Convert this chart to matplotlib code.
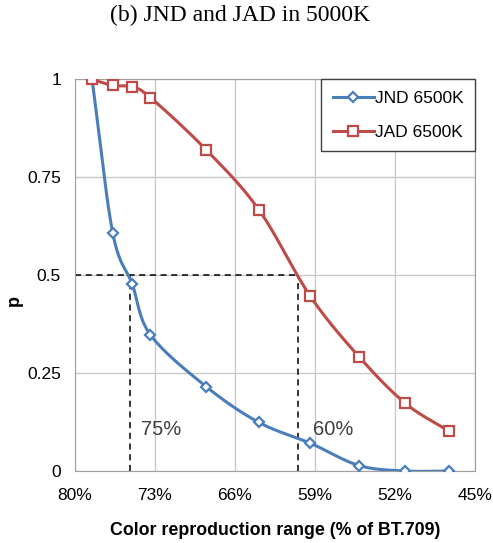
import numpy as np
import matplotlib
matplotlib.use('Agg')
from matplotlib.pyplot import figure

# colour gamut (% of BT.709) and probability values
gamut = [78.5, 76.7, 75.0, 73.4, 68.5, 63.9, 59.4, 55.15, 51.1, 47.3]
jnd = [1.0, 0.609, 0.478, 0.348, 0.215, 0.124, 0.071, 0.014, 0.0, 0.0]
jad = [1.0, 0.985, 0.981, 0.954, 0.820, 0.667, 0.446, 0.292, 0.173, 0.102]
x_ticks = [80, 73, 66, 59, 52, 45]
y_ticks = [0, 0.25, 0.5, 0.75, 1]
y_labels = ['0', '0.25', '0.5', '0.75', '1']
cut_jnd = 75.2
cut_jad = 60.5

def smooth(x, y, n=20):
    '''Catmull-Rom curve through the points, like an Excel smoothed line'''
    x = np.asarray(x, float)
    y = np.asarray(y, float)
    px = np.concatenate([[2*x[0]-x[1]], x, [2*x[-1]-x[-2]]])
    py = np.concatenate([[2*y[0]-y[1]], y, [2*y[-1]-y[-2]]])
    xs, ys = [], []
    t = np.linspace(0, 1, n, endpoint=False)
    for i in range(1, len(px)-2):
        for p, out in ((px, xs), (py, ys)):
            p0, p1, p2, p3 = p[i-1], p[i], p[i+1], p[i+2]
            out.extend(0.5*((2*p1) + (-p0+p2)*t + (2*p0-5*p1+4*p2-p3)*t**2
                            + (-p0+3*p1-3*p2+p3)*t**3))
    xs.append(x[-1])
    ys.append(y[-1])
    return np.array(xs), np.array(ys)

blue = '#4A7EBB'
red = '#BE4B48'
sans = 'Liberation Sans'

fig = figure(figsize=(4.93, 5.43), dpi=100)
ax = fig.add_axes([0.152, 0.1326, 0.8115, 0.721])

for vals, col, mk, ms, name in ((jnd, blue, 'D', 5, 'JND 6500K'),
                                (jad, red, 's', 7.5, 'JAD 6500K')):
    sx, sy = smooth(gamut, vals)
    ax.plot(sx, sy, color=col, lw=2.2, zorder=3)
    ax.plot(gamut, vals, ls='none', marker=mk, ms=ms, mfc='white', mec=col,
            mew=1.6, zorder=4)
    ax.plot([], [], color=col, lw=2.2, marker=mk, ms=ms, mfc='white', mec=col,
            mew=1.6, label=name)

ax.plot([80, cut_jad], [0.5, 0.5], 'k--', lw=1.1, dashes=(4, 3), zorder=2)
ax.plot([cut_jnd, cut_jnd], [0, 0.5], 'k--', lw=1.1, dashes=(4, 3), zorder=2)
ax.plot([cut_jad, cut_jad], [0, 0.5], 'k--', lw=1.1, dashes=(4, 3), zorder=2)
ax.text(74.2, 0.107, '75%', fontsize=14.5, color='#404040', family=sans, va='center')
ax.text(59.2, 0.107, '60%', fontsize=14.5, color='#404040', family=sans, va='center')

ax.set_xlim(80, 45)
ax.set_ylim(0, 1)
ax.set_xticks(x_ticks)
ax.set_xticklabels([f'{v}%' for v in x_ticks], family=sans, fontsize=12.5)
ax.set_yticks(y_ticks)
ax.set_yticklabels(y_labels, family=sans, fontsize=12.5)
ax.tick_params(axis='x', length=0, pad=12)
ax.tick_params(axis='y', length=0, pad=10)
ax.grid(color='#C8C8C8', lw=1)
ax.set_axisbelow(True)
for s in ax.spines.values():
    s.set_color('#A0A0A0')

ax.set_xlabel('Color reproduction range (% of BT.709)', family=sans,
              fontsize=12.8, fontweight='bold', labelpad=14)
# y label placed by hand so it stays inside the figure
fig.text(14/493, 1 - 300/543, 'p', family=sans, fontsize=13, fontweight='bold',
         rotation=90, ha='center', va='center')

leg = ax.legend(loc='upper right', bbox_to_anchor=(1.0, 1.0), prop={'family': sans, 'size': 12.5},
                fancybox=False, framealpha=1, edgecolor='#404040',
                handlelength=2.4, handletextpad=0.05, labelspacing=1.1,
                borderpad=0.65, borderaxespad=0)
leg.get_frame().set_linewidth(1)

fig.text(0.487, 0.971, '(b) JND and JAD in 5000K', family='Liberation Serif',
         fontsize=17, ha='center', va='center')

fig.savefig('out.png', dpi=100)
